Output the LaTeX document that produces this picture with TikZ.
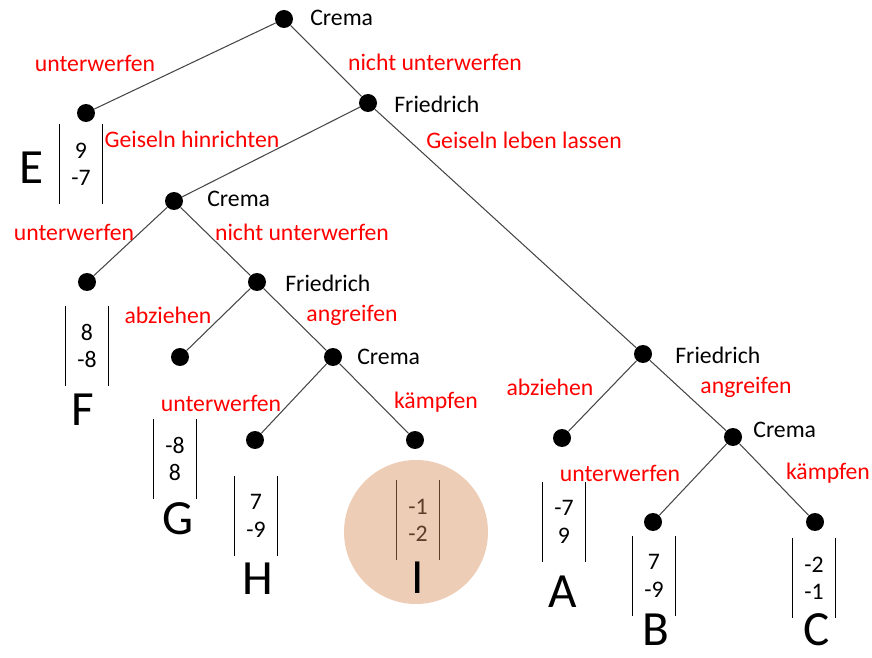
\documentclass[tikz,border=0pt]{standalone}
\usepackage{fontspec}
\setmainfont{Carlito}
\definecolor{kante}{RGB}{70,70,70}
\definecolor{kreis}{RGB}{237,205,182}
\definecolor{braun}{RGB}{95,60,40}
\tikzset{
  knoten/.style={circle,fill=black,inner sep=0pt,minimum size=0.36cm},
  zug/.style={text=red,inner sep=0pt,font=\fontsize{13.5}{16}\selectfont},
  spieler/.style={anchor=west,inner sep=0pt,font=\fontsize{13.5}{16}\selectfont},
  auszahlung/.style={inner sep=0pt,minimum width=0.84cm,minimum height=1.58cm,align=center,font=\fontsize{13.5}{15.5}\selectfont},
  buchstabe/.style={inner sep=0pt,font=\fontsize{28}{30}\selectfont},
  ast/.style={draw=kante,line width=0.6pt}
}
\begin{document}
\begin{tikzpicture}[x=0.02cm,y=-0.02cm]
\useasboundingbox (0,0) rectangle (872,658);
% markiertes Ergebnis
\fill[kreis] (416,532) circle (1.44cm);
% Entscheidungsknoten und Endknoten
\foreach \name/\x/\y in {c1/284/19, lE/86/113, f1/368/103, c2/174/201, lF/87/282,
  f2/257/282, lG/180/357, c3/333/357, lH/255/440, lI/415/440,
  f3/643/354, lA/562/438, c4/733/437, lB/653/522, lC/815/522}
  \node[knoten] (\name) at (\x,\y) {};
% Aeste
\draw[ast] (c1) -- (lE);
\draw[ast] (c1) -- (f1);
\draw[ast] (f1) -- (c2);
\draw[ast] (f1) -- (f3);
\draw[ast] (c2) -- (lF);
\draw[ast] (c2) -- (f2);
\draw[ast] (f2) -- (lG);
\draw[ast] (f2) -- (c3);
\draw[ast] (c3) -- (lH);
\draw[ast] (c3) -- (lI);
\draw[ast] (f3) -- (lA);
\draw[ast] (f3) -- (c4);
\draw[ast] (c4) -- (lB);
\draw[ast] (c4) -- (lC);
% Spieler
\node[spieler] (tc1) at (310,18) {Crema};
\node[spieler] (tf1) at (394,104) {Friedrich};
\node[spieler] (tc2) at (207,199) {Crema};
\node[spieler] (tf2) at (285,283) {Friedrich};
\node[spieler] (tc3) at (357,357) {Crema};
\node[spieler] (tf3) at (675,355) {Friedrich};
\node[spieler] (tc4) at (753,430) {Crema};
% Zuege
\node[zug] (z1) at (95,63) {unterwerfen};
\node[zug] (z2) at (435,62) {nicht unterwerfen};
\node[zug] (z3) at (192,139) {Geiseln hinrichten};
\node[zug] (z4) at (524,140) {Geiseln leben lassen};
\node[zug] (z5) at (74,232) {unterwerfen};
\node[zug] (z6) at (302,232) {nicht unterwerfen};
\node[zug] (z7) at (168,315) {abziehen};
\node[zug] (z8) at (352,315) {angreifen};
\node[zug] (z9) at (221,403) {unterwerfen};
\node[zug] (z10) at (436,402) {kämpfen};
\node[zug] (z11) at (550,387) {abziehen};
\node[zug] (z12) at (746,387) {angreifen};
\node[zug] (z13) at (620,473) {unterwerfen};
\node[zug] (z14) at (828,473) {kämpfen};
% Auszahlungen
\node[auszahlung] (pE) at (81,164) {9\\-7};
\node[auszahlung] (pF) at (87,346) {8\\-8};
\node[auszahlung] (pG) at (175,459) {-8\\8};
\node[auszahlung] (pH) at (256,516) {7\\-9};
\node[auszahlung,text=braun] (pI) at (418,520) {-1\\-2};
\node[auszahlung] (pA) at (564,522) {-7\\9};
\node[auszahlung] (pB) at (654,576) {7\\-9};
\node[auszahlung] (pC) at (814,578) {-2\\-1};
\foreach \p in {pE,pF,pG,pH,pA,pB,pC}
  \draw[line width=0.6pt] (\p.north west) -- (\p.south west) (\p.north east) -- (\p.south east);
\draw[line width=0.6pt,braun] (pI.north west) -- (pI.south west) (pI.north east) -- (pI.south east);
% Ergebnisse
\node[buchstabe] (bE) at (32,168) {E};
\node[buchstabe] (bF) at (83,410) {F};
\node[buchstabe] (bG) at (178,519) {G};
\node[buchstabe] (bH) at (258,579) {H};
\node[buchstabe] (bI) at (418,578) {I};
\node[buchstabe] (bA) at (563,592) {A};
\node[buchstabe] (bB) at (656,630) {B};
\node[buchstabe] (bC) at (817,630) {C};
\end{tikzpicture}
\end{document}
